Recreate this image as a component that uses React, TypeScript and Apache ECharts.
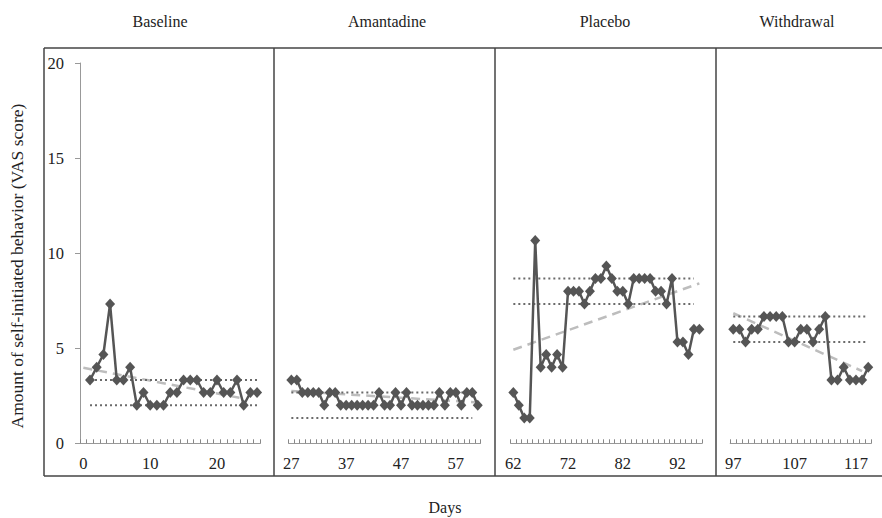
import React, { useEffect, useRef } from 'react';
import * as echarts from 'echarts';

// ---- Data ----
const panelTitles = ['Baseline', 'Amantadine', 'Placebo', 'Withdrawal'];
const panelFirstDay = [0, 27, 62, 97];
const panelLastDay = [26, 61, 96, 119];

// Baseline: days 1-26 (day 0 is only an axis label)
const baselineValues = [3.33, 4.0, 4.67, 7.33, 3.33, 3.33, 4.0, 2.0, 2.67, 2.0, 2.0, 2.0, 2.67, 2.67, 3.33, 3.33, 3.33, 2.67, 2.67, 3.33, 2.67, 2.67, 3.33, 2.0, 2.67, 2.67];
// Amantadine: days 27-61
const amantadineValues = [3.33, 3.33, 2.67, 2.67, 2.67, 2.67, 2.0, 2.67, 2.67, 2.0, 2.0, 2.0, 2.0, 2.0, 2.0, 2.0, 2.67, 2.0, 2.0, 2.67, 2.0, 2.67, 2.0, 2.0, 2.0, 2.0, 2.0, 2.67, 2.0, 2.67, 2.67, 2.0, 2.67, 2.67, 2.0];
// Placebo: days 62-96
const placeboValues = [2.67, 2.0, 1.33, 1.33, 10.67, 4.0, 4.67, 4.0, 4.67, 4.0, 8.0, 8.0, 8.0, 7.33, 8.0, 8.67, 8.67, 9.33, 8.67, 8.0, 8.0, 7.33, 8.67, 8.67, 8.67, 8.67, 8.0, 8.0, 7.33, 8.67, 5.33, 5.33, 4.67, 6.0, 6.0];
// Withdrawal: days 97-119
const withdrawalValues = [6.0, 6.0, 5.33, 6.0, 6.0, 6.67, 6.67, 6.67, 6.67, 5.33, 5.33, 6.0, 6.0, 5.33, 6.0, 6.67, 3.33, 3.33, 4.0, 3.33, 3.33, 3.33, 4.0];

const panelValues = [baselineValues, amantadineValues, placeboValues, withdrawalValues];
const panelDataFirstDay = [1, 27, 62, 97];

// dotted reference bands (upper, lower) and their day span
const bandUpper = [3.33, 2.67, 8.67, 6.67];
const bandLower = [2.0, 1.33, 7.33, 5.33];
const bandStartDay = [1, 27, 62, 97];
const bandEndDay = [26, 60, 95, 119];

// dashed trend lines (start value, end value) and day span
const trendStart = [3.97, 2.75, 4.92, 6.84];
const trendEnd = [2.35, 2.15, 8.41, 3.8];
const trendStartDay = [0, 27, 62, 97];
const trendEndDay = [24, 61, 96, 118];

const yTickValues = [0, 5, 10, 15, 20];
const yTitle = 'Amount of self-initiated behavior (VAS score)';
const xTitle = 'Days';

// ---- Layout ----
const FONT = "'Liberation Serif', 'Times New Roman', serif";
const gridLeft = [80, 288.6, 510.6, 730.2];
const gridWidth = [180.4, 191.9, 191.5, 141.1];
const titleX = [160, 387, 605, 797];
const GRID_TOP = 63;
const GRID_H = 380.3;

export default function App() {
  const ref = useRef<HTMLDivElement>(null);

  useEffect(() => {
    if (!ref.current) return;
    const chart = echarts.init(ref.current, null, { renderer: 'svg' });

    const grids: any[] = [];
    const xAxes: any[] = [];
    const yAxes: any[] = [];
    const series: any[] = [];

    for (let p = 0; p < 4; p++) {
      const days: string[] = [];
      for (let d = panelFirstDay[p]; d <= panelLastDay[p]; d++) days.push(String(d));
      grids.push({ left: gridLeft[p], width: gridWidth[p], top: GRID_TOP, height: GRID_H, containLabel: false });
      xAxes.push({
        type: 'category',
        gridIndex: p,
        data: days,
        boundaryGap: true,
        axisLine: { show: true, lineStyle: { color: '#999', width: 1 } },
        axisTick: { show: true, inside: true, length: 4, interval: 0, alignWithLabel: false, lineStyle: { color: '#888', width: 1 } },
        axisLabel: { interval: 9, fontSize: 16.5, fontFamily: FONT, color: '#222', margin: 12 },
        splitLine: { show: false },
      });
      yAxes.push({
        type: 'value',
        gridIndex: p,
        min: 0,
        max: 20,
        interval: 5,
        show: p === 0,
        axisLine: { show: true, lineStyle: { color: '#999', width: 1 } },
        axisTick: { show: true, inside: false, length: 5, lineStyle: { color: '#999' } },
        axisLabel: {
          fontSize: 16.5,
          fontFamily: FONT,
          color: '#222',
          margin: 16,
          formatter: (v: number) => (yTickValues.includes(v) ? String(v) : ''),
        },
        splitLine: { show: false },
      });

      const first = panelFirstDay[p];
      // trend (dashed)
      series.push({
        type: 'line',
        xAxisIndex: p,
        yAxisIndex: p,
        data: [
          [trendStartDay[p] - first, trendStart[p]],
          [trendEndDay[p] - first, trendEnd[p]],
        ],
        symbol: 'none',
        lineStyle: { color: '#bdbdbd', width: 2.5, type: [9, 6] },
        z: 1,
        silent: true,
      });
      // bands (dotted)
      [bandUpper[p], bandLower[p]].forEach((v) => {
        series.push({
          type: 'line',
          xAxisIndex: p,
          yAxisIndex: p,
          data: [
            [bandStartDay[p] - first, v],
            [bandEndDay[p] - first, v],
          ],
          symbol: 'none',
          lineStyle: { color: '#6a6a6a', width: 2, type: [2, 3] },
          z: 2,
          silent: true,
        });
      });
      // data
      const vals = panelValues[p];
      const offset = panelDataFirstDay[p] - first;
      series.push({
        type: 'line',
        xAxisIndex: p,
        yAxisIndex: p,
        data: vals.map((v, i) => [i + offset, v]),
        symbol: 'diamond',
        symbolSize: [10, 11],
        showSymbol: true,
        showAllSymbol: true,
        lineStyle: { color: '#555', width: 2.5 },
        itemStyle: { color: '#555' },
        z: 3,
        silent: true,
      });
    }

    const boxStroke = { stroke: '#444', lineWidth: 1.5 };
    const graphics: any[] = [
      { type: 'line', shape: { x1: 44, y1: 48, x2: 882, y2: 48 }, style: boxStroke, silent: true },
      { type: 'line', shape: { x1: 44, y1: 476, x2: 882, y2: 476 }, style: boxStroke, silent: true },
      { type: 'line', shape: { x1: 44, y1: 48, x2: 44, y2: 476 }, style: boxStroke, silent: true },
      { type: 'line', shape: { x1: 274, y1: 48, x2: 274, y2: 476 }, style: boxStroke, silent: true },
      { type: 'line', shape: { x1: 495, y1: 48, x2: 495, y2: 476 }, style: boxStroke, silent: true },
      { type: 'line', shape: { x1: 716, y1: 48, x2: 716, y2: 476 }, style: boxStroke, silent: true },
    ];
    panelTitles.forEach((t, i) => {
      graphics.push({
        type: 'text',
        x: titleX[i],
        y: 21,
        style: { text: t, fontSize: 16, fontFamily: FONT, fill: '#222', textAlign: 'center', textVerticalAlign: 'middle' },
        silent: true,
      });
    });
    graphics.push({
      type: 'text',
      x: 445,
      y: 507,
      style: { text: xTitle, fontSize: 16, fontFamily: FONT, fill: '#222', textAlign: 'center', textVerticalAlign: 'middle' },
      silent: true,
    });
    graphics.push({
      type: 'text',
      x: 17,
      y: 266,
      rotation: Math.PI / 2,
      style: { text: yTitle, fontSize: 17.5, fontFamily: FONT, fill: '#222', textAlign: 'center', textVerticalAlign: 'middle' },
      silent: true,
    });

    chart.setOption({
      animation: false,
      backgroundColor: '#fff',
      grid: grids,
      xAxis: xAxes,
      yAxis: yAxes,
      series,
      graphic: graphics,
    });

    return () => chart.dispose();
  }, []);

  return <div ref={ref} style={{ position: 'fixed', left: 0, top: 0, width: 882, height: 518 }} />;
}
